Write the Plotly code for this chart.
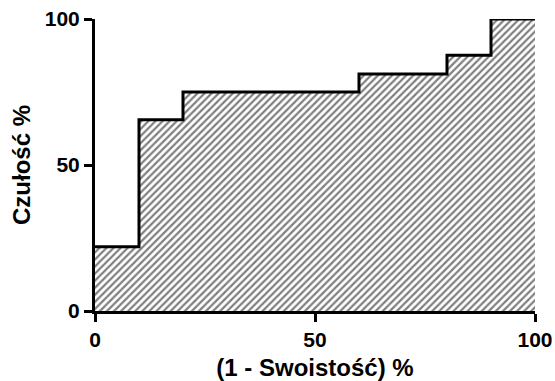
import plotly.graph_objects as go

fpr = [0, 10, 20, 60, 80, 90, 100]
tpr = [22, 65.5, 75, 81.2, 87.6, 100, 100]
tick_vals = [0, 50, 100]
tick_text = ["0", "50", "100"]

fig = go.Figure()
fig.add_trace(go.Scatter(
    x=fpr, y=tpr, mode="lines", line=dict(shape="hv", color="black", width=3),
    fill="tozeroy", fillcolor="white",
    fillpattern=dict(shape="/", size=5, solidity=0.45, fgcolor="black", bgcolor="white", fillmode="overlay"),
    showlegend=False, hoverinfo="skip",
))

font = dict(family="Liberation Sans, Arial", size=21, color="black", weight="bold")
axis_common = dict(
    range=[0, 100], tickvals=tick_vals, ticktext=tick_text, automargin=False,
    showgrid=False, zeroline=False, showline=True, linecolor="black", linewidth=3,
    ticks="outside", ticklen=8, tickwidth=3, tickcolor="black", tickfont=font,
)
fig.update_layout(
    width=555, height=381, paper_bgcolor="white", plot_bgcolor="white",
    margin=dict(l=95, r=20, t=19, b=70),
    xaxis=dict(**axis_common, title=dict(text="(1 - Swoistość) %", font=dict(font, size=24), standoff=13)),
    yaxis=dict(**axis_common, title=dict(text="Czułość %", font=dict(font, size=24), standoff=8)),
)
fig.write_html("out.html")
